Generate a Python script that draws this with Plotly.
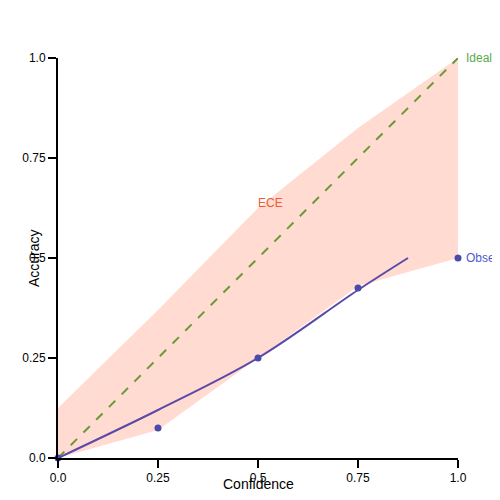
import plotly.graph_objects as go

# reliability diagram data
bin_conf = [0, 0.25, 0.5, 0.75, 1.0]
bin_acc = [0, 0.075, 0.25, 0.425, 0.5]
band_upper = [0.125, 0.37, 0.625, 0.825, 1.0]
band_lower = [0, 0.07, 0.25, 0.43, 0.5]
fit_x = [0, 0.25, 0.5, 0.75, 0.875]
fit_y = [0, 0.12, 0.25, 0.42, 0.5]

fig = go.Figure()

fig.add_trace(go.Scatter(x=bin_conf + bin_conf[::-1], y=band_upper + band_lower[::-1],
                         mode='lines', fill='toself', fillcolor='rgba(255,160,135,0.38)',
                         line=dict(width=0), hoverinfo='skip', showlegend=False))
fig.add_trace(go.Scatter(x=[0, 1], y=[0, 1], mode='lines',
                         line=dict(color='#6a9a3a', width=2, dash='dash'), showlegend=False))
fig.add_trace(go.Scatter(x=fit_x, y=fit_y, mode='lines', line=dict(color='#5a4aa8', width=2, shape='spline'),
                         showlegend=False))
fig.add_trace(go.Scatter(x=bin_conf, y=bin_acc, mode='markers', cliponaxis=False,
                         marker=dict(color='#4a4aaa', size=7), showlegend=False))

fig.add_annotation(x=1.0, y=1.0, text='Ideal Calibration', showarrow=False, xanchor='left', xshift=6,
                   font=dict(color='#5aaa4a', size=12))
fig.add_annotation(x=1.0, y=0.5, text='Observed', showarrow=False, xanchor='left', xshift=6,
                   font=dict(color='#4a5acc', size=12))
fig.add_annotation(x=0.53, y=0.637, text='ECE', showarrow=False, font=dict(color='#f05a30', size=12))
fig.add_annotation(x=0.5, y=-0.09, xref='paper', yref='paper', text='Confidence', showarrow=False,
                   font=dict(size=14, color='black'))
fig.add_annotation(x=-0.085, y=0.5, xref='paper', yref='paper', text='Accuracy', showarrow=False,
                   textangle=-90, font=dict(size=14, color='black'))

axis = dict(range=[0, 1], showgrid=False, zeroline=False, showline=True, linecolor='black', linewidth=2,
            ticks='outside', ticklen=8, tickwidth=2, tickcolor='black', automargin=False,
            tickvals=[0, 0.25, 0.5, 0.75, 1.0], ticktext=['0.0', '0.25', '0.5', '0.75', '1.0'],
            tickfont=dict(size=12, color='black'))
fig.update_layout(width=500, height=500, margin=dict(l=50, r=50, t=50, b=50),
                  plot_bgcolor='white', paper_bgcolor='white', font=dict(family='Liberation Sans'),
                  xaxis=axis, yaxis=axis)

fig.write_html("out.html")
